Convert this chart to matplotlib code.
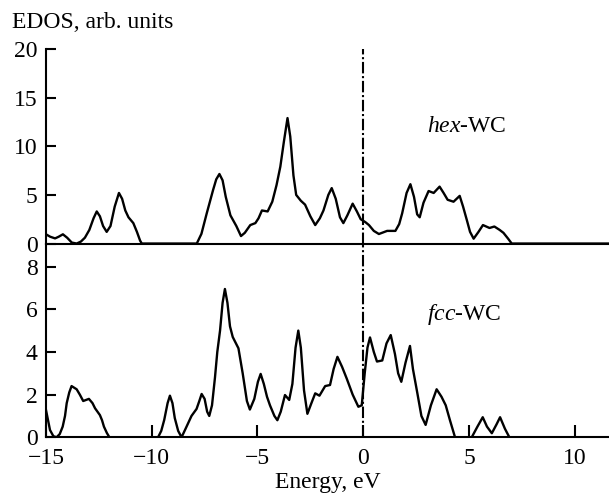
import numpy as np
import matplotlib
matplotlib.use("Agg")
import matplotlib.pyplot as plt

plt.rcParams["font.family"] = ["Liberation Serif", "DejaVu Serif"]
plt.rcParams["mathtext.fontset"] = "custom"
plt.rcParams["mathtext.rm"] = "Liberation Serif"
plt.rcParams["mathtext.it"] = "Liberation Serif:italic"

# hex-WC electron density of states (energy in eV, EDOS in arb. units)
hex_energy = [-15.0, -14.8, -14.57, -14.4, -14.2, -14.0, -13.78, -13.55, -13.35, -13.16,
              -12.95, -12.75, -12.6, -12.45, -12.3, -12.13, -11.95, -11.75, -11.55, -11.4,
              -11.25, -11.1, -10.87, -10.7, -10.55, -10.47, -7.87, -7.65, -7.4, -7.1,
              -6.95, -6.8, -6.65, -6.5, -6.28, -6.0, -5.78, -5.6, -5.34, -5.1,
              -4.95, -4.79, -4.52, -4.3, -4.1, -3.92, -3.75, -3.58, -3.45, -3.3,
              -3.17, -2.95, -2.75, -2.5, -2.27, -2.05, -1.88, -1.65, -1.49, -1.3,
              -1.1, -0.94, -0.75, -0.5, -0.3, -0.12, 0.1, 0.27, 0.5, 0.74,
              1.13, 1.52, 1.7, 1.84, 2.05, 2.23, 2.4, 2.55, 2.67, 2.85,
              3.09, 3.33, 3.61, 3.8, 3.99, 4.27, 4.56, 4.72, 4.9, 5.05,
              5.22, 5.45, 5.66, 5.97, 6.2, 6.45, 6.63, 6.85, 7.02, 11.7]
hex_dos = [0.95, 0.7, 0.53, 0.7, 0.95, 0.6, 0.1, 0.0, 0.2, 0.6,
           1.4, 2.6, 3.3, 2.8, 1.8, 1.2, 1.8, 3.8, 5.2, 4.6,
           3.4, 2.7, 2.1, 1.2, 0.3, 0.0, 0.0, 1.0, 3.1, 5.5,
           6.6, 7.15, 6.5, 4.8, 2.9, 1.8, 0.77, 1.1, 1.9, 2.1,
           2.6, 3.4, 3.3, 4.3, 6.0, 7.9, 10.5, 12.9, 11.0, 7.0,
           5.0, 4.4, 4.0, 2.8, 1.9, 2.6, 3.4, 5.0, 5.7, 4.6,
           2.7, 2.1, 2.9, 4.1, 3.3, 2.5, 2.2, 1.9, 1.3, 0.98,
           1.3, 1.3, 2.0, 3.1, 5.2, 6.1, 4.8, 3.0, 2.7, 4.2,
           5.4, 5.2, 5.85, 5.2, 4.5, 4.3, 4.9, 3.8, 2.4, 1.2,
           0.5, 1.2, 1.9, 1.6, 1.75, 1.4, 1.1, 0.5, 0.0, 0.0]

# fcc-WC electron density of states
fcc_energy = [-15.0, -14.81, -14.65, -14.5, -14.35, -14.21, -14.1, -14.02, -13.9, -13.79,
              -13.55, -13.4, -13.24, -12.97, -12.8, -12.68, -12.45, -12.35, -12.26, -12.12,
              -12.0, -9.7, -9.55, -9.41, -9.25, -9.14, -9.02, -8.91, -8.75, -8.59,
              -8.4, -8.12, -7.88, -7.75, -7.64, -7.5, -7.38, -7.28, -7.15, -7.01,
              -6.9, -6.77, -6.65, -6.54, -6.42, -6.3, -6.17, -5.9, -5.7, -5.5,
              -5.36, -5.15, -4.98, -4.85, -4.7, -4.55, -4.41, -4.2, -4.06, -3.9,
              -3.7, -3.5, -3.35, -3.2, -3.07, -2.95, -2.8, -2.64, -2.45, -2.27,
              -2.07, -1.8, -1.57, -1.4, -1.22, -1.0, -0.78, -0.5, -0.23, -0.07,
              0.07, 0.2, 0.32, 0.5, 0.65, 0.9, 1.1, 1.3, 1.5, 1.65,
              1.8, 2.0, 2.21, 2.35, 2.56, 2.75, 2.95, 3.2, 3.47, 3.7,
              3.9, 4.1, 4.34, 5.13, 5.4, 5.65, 5.85, 6.08, 6.3, 6.47,
              6.7, 6.91, 11.7]
fcc_dos = [1.28, 0.34, 0.05, 0.0, 0.15, 0.5, 1.0, 1.6, 2.1, 2.4,
           2.25, 2.0, 1.7, 1.8, 1.6, 1.36, 1.04, 0.8, 0.5, 0.2,
           0.0, 0.0, 0.3, 0.81, 1.6, 1.95, 1.6, 0.9, 0.3, 0.0,
           0.4, 1.0, 1.33, 1.7, 2.03, 1.8, 1.2, 1.0, 1.5, 2.8,
           4.0, 5.0, 6.3, 6.95, 6.3, 5.2, 4.7, 4.17, 3.0, 1.7,
           1.3, 1.8, 2.6, 2.97, 2.5, 1.9, 1.5, 1.0, 0.8, 1.2,
           1.98, 1.75, 2.5, 4.2, 5.0, 4.2, 2.2, 1.1, 1.6, 2.06,
           1.95, 2.4, 2.45, 3.2, 3.77, 3.3, 2.75, 2.0, 1.43, 1.5,
           3.0, 4.2, 4.68, 4.0, 3.55, 3.6, 4.4, 4.79, 3.9, 3.0,
           2.6, 3.5, 4.28, 3.2, 2.06, 1.0, 0.58, 1.5, 2.25, 1.9,
           1.5, 0.8, 0.0, 0.0, 0.5, 0.94, 0.5, 0.19, 0.6, 0.94,
           0.4, 0.0, 0.0]

hex_yticks = [0, 5, 10, 15, 20]
fcc_yticks = [0, 2, 4, 6, 8]
x_ticks = [-15, -10, -5, 0, 5, 10]
x_ticklabels = ["\u221215", "\u221210", "\u22125", "0", "5", "10"]

fig = plt.figure(figsize=(6.09, 4.95), dpi=100)
ax_top = fig.add_axes([0.0755, 0.508, 0.9245, 0.393])
ax_bot = fig.add_axes([0.0755, 0.1166, 0.9245, 0.3914])

fermi_style = dict(color="black", lw=1.5, linestyle=(0, (5.5, 1.3, 1.0, 1.3)))
curve_style = dict(color="black", lw=1.7, solid_joinstyle="round")

ax_top.plot(hex_energy, hex_dos, **curve_style)
ax_top.axvline(0, **fermi_style)
ax_top.set_xlim(-15, 11.62)
ax_top.set_ylim(0, 20)
ax_top.set_yticks(hex_yticks)
ax_top.set_xticks([])
ax_top.text(3.0, 11.5, r"$\mathit{hex}$-WC", fontsize=17, va="baseline")

ax_bot.plot(fcc_energy, fcc_dos, **curve_style)
ax_bot.axvline(0, **fermi_style)
ax_bot.set_xlim(-15, 11.62)
ax_bot.set_ylim(0, 9.08)
ax_bot.set_yticks(fcc_yticks)
ax_bot.set_xticks(x_ticks)
ax_bot.set_xticklabels(x_ticklabels)
ax_bot.text(3.0, 5.5, r"$\mathit{fcc}$-WC", fontsize=17, va="baseline")
ax_bot.set_xlabel("Energy, eV", fontsize=17, labelpad=2)

for ax in (ax_top, ax_bot):
    ax.spines["top"].set_visible(False)
    ax.spines["right"].set_visible(False)
    ax.spines["left"].set_linewidth(1.5)
    ax.spines["bottom"].set_linewidth(1.5)
    ax.tick_params(direction="in", length=7, width=1.5, labelsize=17)
    ax.tick_params(axis="y", pad=6)
    ax.patch.set_alpha(0)
ax_bot.tick_params(axis="x", pad=8, length=9)

fig.text(0.02, 1 - 28 / 495, "EDOS, arb. units", fontsize=17, va="baseline")

fig.savefig("out.png", dpi=100)
